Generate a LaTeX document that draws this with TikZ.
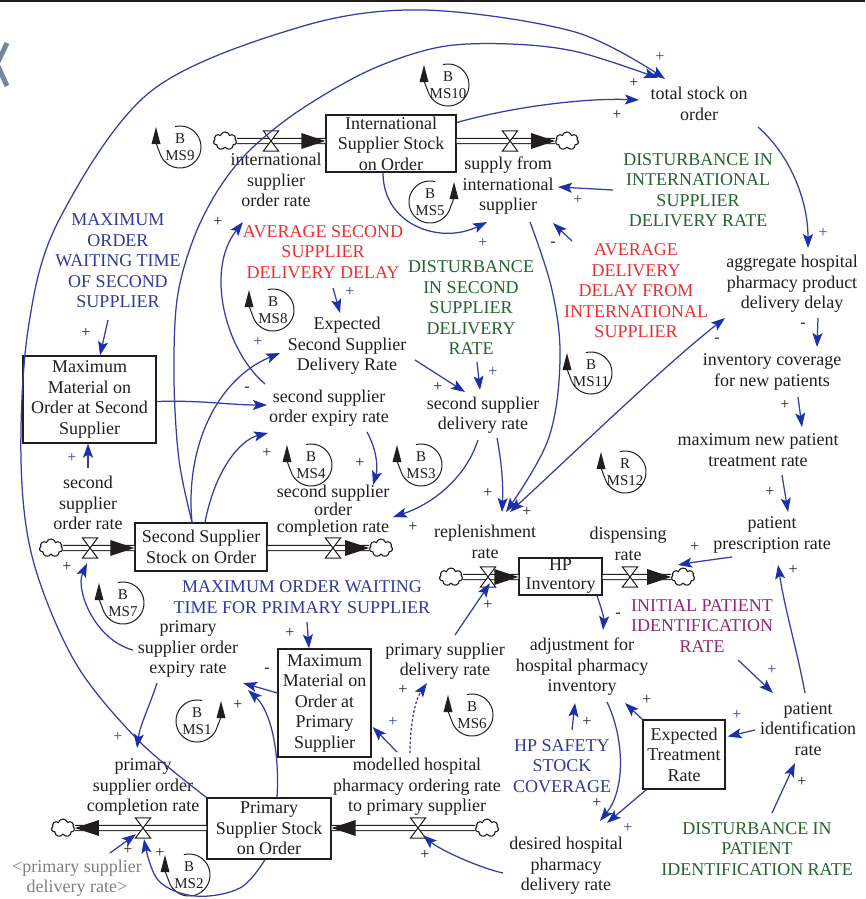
\documentclass[tikz,border=0pt]{standalone}
\usepackage{fontspec}
\setmainfont{Liberation Serif}
\usetikzlibrary{calc,arrows.meta,shapes.symbols}
\definecolor{txt}{RGB}{35,30,30}
\definecolor{linkblue}{RGB}{50,62,165}
\definecolor{headblue}{RGB}{28,48,170}
\definecolor{cblue}{RGB}{48,58,155}
\definecolor{cred}{RGB}{236,48,48}
\definecolor{cgreen}{RGB}{36,98,46}
\definecolor{cpurple}{RGB}{148,40,118}
\definecolor{cgray}{RGB}{128,128,128}
\definecolor{slate}{RGB}{120,136,156}
\tikzset{
  lbl/.style={align=center, inner sep=0pt, text=txt, font=\fontsize{18}{20.5}\selectfont},
  stock/.style={draw=txt, line width=1.3pt, inner sep=0pt, align=center, text=txt, font=\fontsize{18}{20.5}\selectfont},
  link/.style={draw=linkblue, line width=1.25pt, -{Stealth[length=14pt,width=10pt,inset=3pt,color=headblue]}},
  linkboth/.style={draw=linkblue, line width=1.25pt, {Stealth[length=14pt,width=10pt,inset=3pt,color=headblue]}-{Stealth[length=14pt,width=10pt,inset=3pt,color=headblue]}},
  sg/.style={inner sep=0pt, text=txt, font=\fontsize{16}{16}\selectfont},
  sgb/.style={sg, text=linkblue},
  pipe/.style={draw=txt, double=white, double distance=4pt, line width=1.1pt},
  valvebox/.style={inner sep=0pt, minimum width=15pt, minimum height=20pt},
  sink/.style={cloud, cloud puffs=7, draw=txt, line width=1.1pt, fill=white, minimum width=23pt, minimum height=18pt, inner sep=0pt},
  lp/.style={inner sep=0pt, text=txt, font=\fontsize{15}{17}\selectfont},
  pics/loopL/.style 2 args={code={
    \draw[txt, line width=1pt] plot[smooth, domain=-104:160, samples=40] ({21*cos(\x)},{21*sin(\x)}) -- (-24,-4);
    \fill[txt] (-24,-20) -- (-28.5,-3) -- (-19.5,-3) -- cycle;
    \node[lp] (-B) at (0,-8) {#1};
    \node[lp] (-M) at (0,9) {#2};
  }},
  pics/loopR/.style 2 args={code={
    \draw[txt, line width=1pt] (24,-4) --plot[smooth, domain=20:284, samples=40] ({21*cos(\x)},{21*sin(\x)});
    \fill[txt] (24,-20) -- (19.5,-3) -- (28.5,-3) -- cycle;
    \node[lp] (-B) at (0,-8) {#1};
    \node[lp] (-M) at (0,9) {#2};
  }},
}
\begin{document}
\begin{tikzpicture}[x=1pt,y=-1pt]
\fill[white] (0,0) rectangle (865,899);
\useasboundingbox (0,0) rectangle (865,899);
\draw[txt, line width=2.2pt] (0,1) -- (865,1);
\draw[slate, line width=5pt] (7,43) -- (-3,64) -- (7,86);

% ---------- stocks ----------
\node[stock, minimum width=130pt, minimum height=57pt] (iss) at (391,143.5) {International\\Supplier Stock\\on Order};
\node[stock, minimum width=133pt, minimum height=87pt] (mms) at (89.5,399.5) {Maximum\\Material on\\Order at Second\\Supplier};
\node[stock, minimum width=132pt, minimum height=48pt] (sss) at (201,547) {Second Supplier\\Stock on Order};
\node[stock, minimum width=83pt, minimum height=37pt, font=\fontsize{18}{19}\selectfont] (hp) at (560.5,576.5) {HP\\Inventory};
\node[stock, minimum width=93pt, minimum height=108pt] (mmp) at (324.5,703) {Maximum\\Material on\\Order at\\Primary\\Supplier};
\node[stock, minimum width=124pt, minimum height=61pt] (pss) at (269,828.5) {Primary\\Supplier Stock\\on Order};
\node[stock, minimum width=82pt, minimum height=69pt] (etr) at (684,754.5) {Expected\\Treatment\\Rate};

% ---------- clouds and valves ----------
\node[sink] (c1) at (225,141) {};
\node[sink] (c2) at (567,141) {};
\node[sink] (c3) at (51,548) {};
\node[sink] (c4) at (381,548) {};
\node[sink] (c5) at (451,577) {};
\node[sink] (c6) at (683,577) {};
\node[sink] (c7) at (487,828) {};
\node[sink] (c8) at (63,828) {};
\node[valvebox] (v1) at (271,141) {};
\node[valvebox] (v2) at (510,141) {};
\node[valvebox] (v3) at (90,548) {};
\node[valvebox] (v4) at (333,548) {};
\node[valvebox] (v5) at (488,577) {};
\node[valvebox] (v6) at (630,577) {};
\node[valvebox] (v7) at (418,828) {};
\node[valvebox] (v8) at (143,828) {};

\draw[pipe] (c1.east) -- (iss.west |- c1);
\draw[pipe] (iss.east |- c2) -- (c2.west);
\draw[pipe] (c3.east) -- (sss.west |- c3);
\draw[pipe] (sss.east |- c4) -- (c4.west);
\draw[pipe] (c5.east) -- (hp.west |- c5);
\draw[pipe] (hp.east |- c6) -- (c6.west);
\draw[pipe] (c7.west) -- (pss.east |- c7);
\draw[pipe] (pss.west |- c8) -- (c8.east);
\foreach \v in {v1,v2,v3,v4,v5,v6,v7,v8}
  \draw[txt, line width=1pt, fill=white] (\v.north west) -- (\v.north east) -- (\v.south west) -- (\v.south east) -- cycle;
\fill[txt] (iss.west |- c1) -- ++(-24,-8) -- ++(0,16) -- cycle;
\fill[txt] (c2.west) -- ++(-24,-8) -- ++(0,16) -- cycle;
\fill[txt] (sss.west |- c3) -- ++(-24,-8) -- ++(0,16) -- cycle;
\fill[txt] (c4.west) -- ++(-24,-8) -- ++(0,16) -- cycle;
\fill[txt] (hp.west |- c5) -- ++(-24,-8) -- ++(0,16) -- cycle;
\fill[txt] (c6.west) -- ++(-24,-8) -- ++(0,16) -- cycle;
\fill[txt] (pss.east |- c7) -- ++(24,-8) -- ++(0,16) -- cycle;
\fill[txt] (c8.east) -- ++(24,-8) -- ++(0,16) -- cycle;

% ---------- variables ----------
\node[lbl] (tso) at (699,104) {total stock on\\order};
\node[lbl, text=cgreen] (disint) at (698,190) {DISTURBANCE IN\\INTERNATIONAL\\SUPPLIER\\DELIVERY RATE};
\node[lbl] (agg) at (792,284) {aggregate hospital\\pharmacy product\\delivery delay};
\node[lbl, text=cred] (avgint) at (636,291) {AVERAGE\\DELIVERY\\DELAY FROM\\INTERNATIONAL\\SUPPLIER};
\node[lbl] (invcov) at (772,372) {inventory coverage\\for new patients};
\node[lbl] (maxnew) at (758,450) {maximum new patient\\treatment rate};
\node[lbl] (presc) at (772,535) {patient\\prescription rate};
\node[lbl, text=cpurple] (initpat) at (702,626) {INITIAL PATIENT\\IDENTIFICATION\\RATE};
\node[lbl] (patid) at (808,729) {patient\\identification\\rate};
\node[lbl, text=cgreen] (dispat) at (757,849) {DISTURBANCE IN\\PATIENT\\IDENTIFICATION RATE};
\node[lbl] (adj) at (582,667) {adjustment for\\hospital pharmacy\\inventory};
\node[lbl, text=cblue] (safety) at (562,766) {HP SAFETY\\STOCK\\COVERAGE};
\node[lbl] (desired) at (566,866) {desired hospital\\pharmacy\\delivery rate};
\node[lbl] (psdr) at (445,661) {primary supplier\\delivery rate};
\node[lbl, text=cblue] (mowp) at (302,597) {MAXIMUM ORDER WAITING\\TIME FOR PRIMARY SUPPLIER};
\node[lbl] (psoer) at (188,649) {primary\\supplier order\\expiry rate};
\node[lbl] (psocr) at (143,787) {primary\\supplier order\\completion rate};
\node[lbl, text=cgray] (psdrref) at (77,878) {<primary supplier\\delivery rate>};
\node[lbl] (mhpor) at (417,787) {modelled hospital\\pharmacy ordering rate\\to primary supplier};
\node[lbl] (ssor) at (88,503) {second\\supplier\\order rate};
\node[lbl, font=\fontsize{18}{17.5}\selectfont] (ssocr) at (333,511) {second supplier\\order\\completion rate};
\node[lbl] (rep) at (485,542) {replenishment\\rate};
\node[lbl] (disp) at (628,544) {dispensing\\rate};
\node[lbl] (ssdr) at (483,415) {second supplier\\delivery rate};
\node[lbl, text=cgreen] (disss) at (471,308) {DISTURBANCE\\IN SECOND\\SUPPLIER\\DELIVERY\\RATE};
\node[lbl] (essdr) at (347,346) {Expected\\Second Supplier\\Delivery Rate};
\node[lbl, text=cred] (avgss) at (323,252) {AVERAGE SECOND\\SUPPLIER\\DELIVERY DELAY};
\node[lbl] (ssoer) at (329,408) {second supplier\\order expiry rate};
\node[lbl, text=cblue] (mows) at (118,261) {MAXIMUM\\ORDER\\WAITING TIME\\OF SECOND\\SUPPLIER};
\node[lbl] (isor) at (276,180) {international\\supplier\\order rate};
\node[lbl] (sfi) at (508,186) {supply from\\international\\supplier};

% ---------- loop markers ----------
\pic (ms9) at (180,147) {loopL={B}{MS9}};
\pic (ms10) at (448,85) {loopL={B}{MS10}};
\pic (ms5) at (430,202) {loopR={B}{MS5}};
\pic (ms8) at (273,310) {loopL={B}{MS8}};
\pic (ms11) at (591,373) {loopL={B}{MS11}};
\pic (ms4) at (311,465) {loopL={B}{MS4}};
\pic (ms3) at (421,465) {loopL={B}{MS3}};
\pic (ms12) at (625,472) {loopL={R}{MS12}};
\pic (ms7) at (123,603) {loopL={B}{MS7}};
\pic (ms1) at (197,721) {loopR={B}{MS1}};
\pic (ms6) at (472,715) {loopL={B}{MS6}};
\pic (ms2) at (189,875) {loopL={B}{MS2}};

% ---------- connectors ----------
\draw[link] plot[smooth, tension=0.55] coordinates {(pss.north west) (138,740) (75,662) (33,560) (21,460) (28,330) (58,222) (150,92) (300,27) (423,10) (575,32) ($(tso)+(-34,-25)$)};
\draw[link] plot[smooth, tension=0.55] coordinates {($(sss.north)+(-9,0)$) (179,460) (174,380) (177,300) (193,240) (218,190) (250,150) (300,110) (370,70) (440,47) (510,44) (578,52) ($(tso)+(-41,-26)$)};
\draw[link] ($(iss.east)+(0,-21)$) .. controls (520,105) and (590,98) .. ($(tso)+(-60,-4)$);
\draw[link] ($(iss.south)+(-8,0)$) .. controls (383,225) and (440,245) .. ($(sfi)+(-21,36)$);
\draw[link] ($(disint)+(-85,0)$) -- ($(sfi)+(50,1)$);
\draw[link] ($(avgint)+(-64,-50)$) -- ($(sfi)+(45,37)$);
\draw[link] plot[smooth, tension=0.6] coordinates {($(sfi)+(22,36)$) (552,290) (560,360) (548,440) ($(rep)+(21,-30)$)};
\draw[linkboth] ($(rep)+(25,-30)$) .. controls (575,452) and (665,365) .. ($(agg)+(-67,34)$);
\draw[link] ($(avgss)+(10,36)$) -- ($(essdr)+(-7,-33)$);
\draw[link] ($(essdr)+(68,14)$) -- ($(ssdr)+(-18,-23)$);
\draw[link] ($(disss)+(6,54)$) -- ($(ssdr)+(-3,-25)$);
\draw[link] ($(ssdr)+(-5,25)$) .. controls (465,480) and (430,505) .. ($(ssocr)+(60,6)$);
\draw[link] ($(ssoer)+(38,24)$) .. controls (377,450) and (378,468) .. ($(ssocr)+(40,-26)$);
\draw[link] ($(ssdr)+(14,23)$) .. controls (503,470) and (503,490) .. ($(rep)+(17,-30)$);
\draw[link] ($(sss.north)+(-9,0)$) .. controls (185,450) and (215,380) .. ($(essdr)+(-67,7)$);
\draw[link] ($(sss.north)+(4,0)$) .. controls (215,470) and (240,440) .. ($(ssoer)+(-61,25)$);
\draw[link] ($(mms.east)+(0,2)$) .. controls (200,400) and (230,405) .. ($(ssoer)+(-62,-3)$);
\draw[link] ($(mows)+(-10,59)$) -- ($(mms.north)+(10.5,0)$);
\draw[link] ($(ssor)+(0,-35)$) -- ($(mms.south)+(-1.5,0)$);
\draw[link] ($(ssoer)+(-64,-24)$) .. controls (225,350) and (205,270) .. ($(isor)+(-33,42)$);
\draw[link] ($(psoer)+(-55,1)$) .. controls (95,640) and (75,590) .. ($(v3.south)+(-3,5)$);
\draw[link] ($(psoer)+(-31,34)$) .. controls (150,705) and (140,725) .. ($(psocr)+(-6,-39)$);
\draw[link] ($(mmp.west)+(0,-10)$) -- ($(psoer)+(55,34)$);
\draw[link] ($(pss.north)+(8,0)$) .. controls (280,750) and (270,710) .. ($(psoer)+(60,41)$);
\draw[link] ($(mowp)+(5,25)$) -- ($(mmp.north)+(-15.5,0)$);
\draw[link] ($(mhpor)+(-20,-35)$) -- ($(mmp.east)+(1,24)$);
\draw[link, dash pattern=on 2.5pt off 2pt] ($(mhpor)+(-7,-34)$) .. controls (410,725) and (415,700) .. ($(psdr)+(-18,22)$);
\draw[link] ($(psdr)+(10,-26)$) -- ($(v5.south)+(2,-4)$);
\draw[link] ($(hp.south)+(36.5,0)$) .. controls (602,610) and (604,618) .. ($(adj)+(21,-37)$);
\draw[link] ($(safety)+(10,-36)$) -- ($(adj)+(-7,36)$);
\draw[link] (etr.north west) -- ($(adj)+(43,36)$);
\draw[link] ($(adj)+(25,35)$) .. controls (625,740) and (625,790) .. ($(desired)+(34,-45)$);
\draw[link] ($(etr.south west)+(4,0)$) -- ($(desired)+(41,-43)$);
\draw[link] ($(desired)+(-63,7)$) .. controls (480,868) and (440,850) .. ($(v7.south)+(5,-3)$);
\draw[link] plot[smooth, tension=0.6] coordinates {($(pss.south)+(-4,0)$) (240,888) (195,896) (158,880) ($(v8.south)+(1,1)$)};
\draw[link] ($(psdrref)+(33,-25)$) -- ($(v8.south)+(-7,-4)$);
\draw[link] ($(patid)+(-53,1)$) -- ($(etr.east)+(2,-18)$);
\draw[link] ($(initpat)+(36,34)$) -- ($(patid)+(-35,-36)$);
\draw[link] ($(dispat)+(15,-36)$) -- ($(patid)+(-13,34)$);
\draw[link] ($(patid)+(-3,-36)$) .. controls (797,650) and (785,610) .. ($(presc)+(6,30)$);
\draw[link] ($(presc)+(-40,22)$) .. controls (710,560) and (695,562) .. ($(c6)+(-5,-12)$);
\draw[link] ($(maxnew)+(24,25)$) -- ($(presc)+(16,-23)$);
\draw[link] ($(invcov)+(26,25)$) -- ($(maxnew)+(44,-23)$);
\draw[link] ($(agg)+(26,34)$) -- ($(invcov)+(45,-25)$);
\draw[link] ($(tso)+(59,23)$) .. controls (790,155) and (808,200) .. ($(agg)+(16,-36)$);

% ---------- polarities ----------
\foreach \px/\py/\sgn [count=\i] in {634/83/+, 617/115/+, 803/325/-, 717/340/-, 785/405/+, 770/492/+, 793/570/+, 695/547/+, 553/244/-, 218/222/+, 438/387/+, 247/389/-, 267/453/+, 86/333/+, 360/463/+, 413/527/+, 488/493/+, 527/512/+, 67/567/+, 290/633/+, 267/670/-, 238/705/+, 403/690/+, 488/605/+, 618/615/-, 587/722/+, 647/700/+, 597/803/+, 425/855/+, 160/853/+, 128/850/+, 802/782/+}
  \node[sg] (pk\i) at (\px,\py) {\sgn};
\foreach \px/\py/\sgn [count=\i] in {660/57/+, 823/233/+, 578/200/+, 483/243/+, 350/292/+, 493/372/+, 258/342/+, 72/458/+, 118/737/+, 393/722/+, 628/828/+, 737/715/+, 772/670/+}
  \node[sgb] (pb\i) at (\px,\py) {\sgn};
\end{tikzpicture}
\end{document}
